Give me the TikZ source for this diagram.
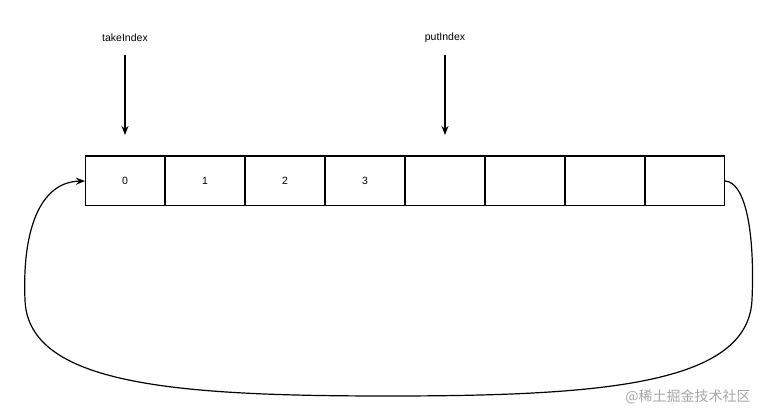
\documentclass[tikz,border=0pt]{standalone}
\usepackage{fontspec}
\setmainfont{Liberation Sans}
\newfontfamily\cjk{Noto Sans CJK SC}
\usetikzlibrary{positioning,arrows.meta}
\begin{document}
\begin{tikzpicture}[x=1pt,y=-1pt,every node/.style={font=\fontsize{10.5}{12}\selectfont},
  cell/.style={draw,line width=1.2pt,minimum width=78.8pt,minimum height=49.8pt,inner sep=0pt},
  pointer/.style={-{Stealth[length=9pt,width=7pt]},line width=1.2pt}]
	\useasboundingbox (0,0) rectangle (771,419);
	%Cells
	\foreach \i/\t in {0/0,1/1,2/2,3/3,4/,5/,6/,7/}
		\node[cell] (c\i) at (125+80*\i,181) {\t};
	%Pointers
	\node (take) at (125,38) {takeIndex};
	\node (put) at (445,38) {putIndex};
	\draw[pointer] (take.south |- 0,55) -- (c0.north |- 0,135);
	\draw[pointer] (put.south |- 0,55) -- (c4.north |- 0,135);
	%Loop
	\draw[pointer] (c7.east) .. controls (745,182) and (755,230) .. (752,300)
		.. controls (748,385) and (600,396) .. (388,396)
		.. controls (176,396) and (28,385) .. (25,300)
		.. controls (22,230) and (40,182) .. (c0.west);
	%Watermark
	\node[gray!70,font=\cjk\fontsize{14}{16}\selectfont] (mark) at (688,397) {@稀土掘金技术社区};
\end{tikzpicture}
\end{document}
